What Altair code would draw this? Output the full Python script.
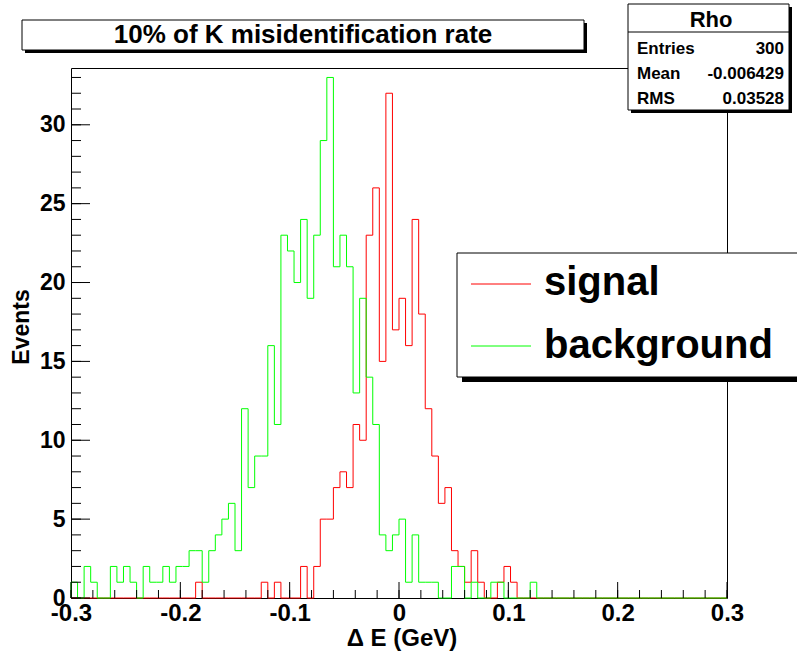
import altair as alt
import pandas as pd

# Delta E histograms, 100 bins on [-0.3, 0.3]
X_MIN, X_MAX = -0.3, 0.3
Y_MAX = 33.6
W, H = 656, 530
FONT = "Liberation Sans"

signal = [
    0, 0, 0, 0, 0, 0, 0, 0, 0, 0,
    0, 0, 0, 0, 0, 0, 0, 0, 0, 1,
    0, 0, 0, 0, 0, 0, 0, 0, 0, 1,
    0, 1, 0, 0, 0, 2, 0, 2, 5, 5,
    7, 8, 7, 11, 10, 23, 26, 15, 32, 17,
    19, 16, 24, 18, 12, 9, 6, 7, 3, 2,
    1, 3, 1, 0, 0, 1, 2, 1, 0, 0,
    0, 0, 0, 0, 0, 0, 0, 0, 0, 0,
    0, 0, 0, 0, 0, 0, 0, 0, 0, 0,
    0, 0, 0, 0, 0, 0, 0, 0, 0, 0,
]

background = [
    1, 0, 2, 1, 0, 0, 2, 1, 2, 1,
    0, 2, 1, 1, 2, 1, 2, 2, 3, 3,
    1, 3, 4, 5, 6, 3, 12, 7, 9, 9,
    16, 11, 23, 22, 20, 24, 19, 23, 29, 33,
    21, 23, 21, 13, 19, 14, 11, 4, 3, 4,
    5, 1, 4, 1, 1, 1, 0, 0, 2, 2,
    0, 1, 0, 0, 1, 1, 0, 0, 0, 0,
    1, 0, 0, 0, 0, 0, 0, 0, 0, 0,
    0, 0, 0, 0, 0, 0, 0, 0, 0, 0,
    0, 0, 0, 0, 0, 0, 0, 0, 0, 0,
]

x_label_values = [-0.3, -0.2, -0.1, 0.0, 0.1, 0.2, 0.3]
y_label_values = [0, 5, 10, 15, 20, 25, 30]
x_minor_ticks = [round(X_MIN + 0.02 * k, 2) for k in range(31)]
y_minor_ticks = list(range(0, 34))

title_text = "10% of K misidentification rate"
stats_name = "Rho"
stats_rows = ["Entries", "Mean", "RMS"]
stats_vals = ["300", "-0.006429", "0.03528"]
legend_labels = ["signal", "background"]
x_title = "\u0394 E (GeV)"
y_title = "Events"


def outline(counts):
    """Histogram outline as a step path through the bin edges."""
    n = len(counts)
    width = (X_MAX - X_MIN) / n
    xs = [X_MIN] + [X_MIN + k * width for k in range(n)] + [X_MAX, X_MAX]
    ys = [0] + list(counts) + [counts[-1], 0]
    return pd.DataFrame({"x": xs, "y": ys, "i": list(range(len(xs)))})


x_scale = alt.Scale(domain=[X_MIN, X_MAX], nice=False, zero=False)
y_scale = alt.Scale(domain=[0, Y_MAX], nice=False)

x_axis = alt.Axis(
    values=x_label_values,
    labelExpr="abs(datum.value) < 1e-9 ? '0' : (datum.value < 0 ? '-' : '') + format(abs(datum.value), '.1f')",
    labelFont=FONT, labelFontWeight="bold", labelFontSize=24, labelColor="black",
    labelPadding=3, labelFlush=False, labelOverlap=False, labelBound=False,
    ticks=False, domain=False, grid=False, title=None,
)
y_axis = alt.Axis(
    values=y_label_values, format="d",
    labelFont=FONT, labelFontWeight="bold", labelFontSize=23, labelColor="black",
    labelPadding=6, labelOverlap=False, labelBound=False,
    ticks=False, domain=False, grid=False, title=None,
)


def hist_layer(counts, color):
    return alt.Chart(outline(counts)).mark_line(
        interpolate="step-after", color=color, strokeWidth=1
    ).encode(
        x=alt.X("x:Q", scale=x_scale, axis=x_axis),
        y=alt.Y("y:Q", scale=y_scale, axis=y_axis),
        order="i:Q",
    )


def x_ticks(values, length):
    return alt.Chart(pd.DataFrame({"x": values})).mark_rule(
        color="black", strokeWidth=1
    ).encode(
        x=alt.X("x:Q", scale=x_scale, axis=x_axis),
        y=alt.value(H), y2=alt.value(H - length),
    )


def y_ticks(values, length):
    return alt.Chart(pd.DataFrame({"y": values})).mark_rule(
        color="black", strokeWidth=1
    ).encode(
        y=alt.Y("y:Q", scale=y_scale, axis=y_axis),
        x=alt.value(0), x2=alt.value(length),
    )


one = pd.DataFrame({"k": [0]})


def box(x0, x1, y0, y1, fill, stroke=None):
    kw = {"fill": fill}
    if stroke:
        kw.update(stroke=stroke, strokeWidth=1)
    return alt.Chart(one).mark_rect(**kw).encode(
        x=alt.value(x0), x2=alt.value(x1), y=alt.value(y0), y2=alt.value(y1)
    )


def label(text, x, y, size, align="left", baseline="middle", angle=0):
    kw = dict(text=text, font=FONT, fontWeight="bold", fontSize=size,
              align=align, baseline=baseline, color="black")
    if angle:
        kw["angle"] = angle
    return alt.Chart(one).mark_text(**kw).encode(x=alt.value(x), y=alt.value(y))


def seg(x0, x1, y, color):
    return alt.Chart(one).mark_rule(color=color, strokeWidth=1).encode(
        x=alt.value(x0), x2=alt.value(x1), y=alt.value(y)
    )


layers = [
    hist_layer(signal, "#ff0000"),
    hist_layer(background, "#00ff00"),
    x_ticks(x_minor_ticks, 8),
    x_ticks(x_label_values, 16),
    y_ticks(y_minor_ticks, 10),
    y_ticks(y_label_values, 19),
    # title pave
    box(-46, 516, -45, -15, "black"),
    box(-49, 513, -48, -18, "white", "black"),
    label(title_text, 232, -33, 26, align="center"),
    # statistics box
    box(560, 721, -61, 45, "black"),
    box(557, 718, -64, 42, "white", "black"),
    seg(557, 718, -36, "black"),
    label(stats_name, 640, -48, 22, align="center"),
    # legend
    box(391, 760, 190, 314, "black"),
    box(386, 755, 185, 309, "white", "black"),
    seg(400, 460, 216, "#ff0000"),
    seg(400, 460, 278, "#00ff00"),
    label(legend_labels[0], 473, 227, 40, baseline="alphabetic"),
    label(legend_labels[1], 473, 290, 40, baseline="alphabetic"),
    # axis titles
    label(x_title, 331, 578, 24, align="center", baseline="alphabetic"),
    label(y_title, -49, 259, 23, align="center", angle=270),
]

row_y = [-19, 6, 31]
for name, val, yy in zip(stats_rows, stats_vals, row_y):
    layers.append(label(name, 566, yy, 17))
    layers.append(label(val, 713, yy, 17, align="right"))

chart = alt.layer(*layers).properties(
    width=W, height=H,
    autosize=alt.AutoSizeParams(type="none"),
    padding={"left": 71, "top": 68, "right": 70, "bottom": 57},
    background="white",
).configure_view(stroke="black", strokeWidth=1)

chart.save("out.html", embed_options={"renderer": "svg", "actions": False})
